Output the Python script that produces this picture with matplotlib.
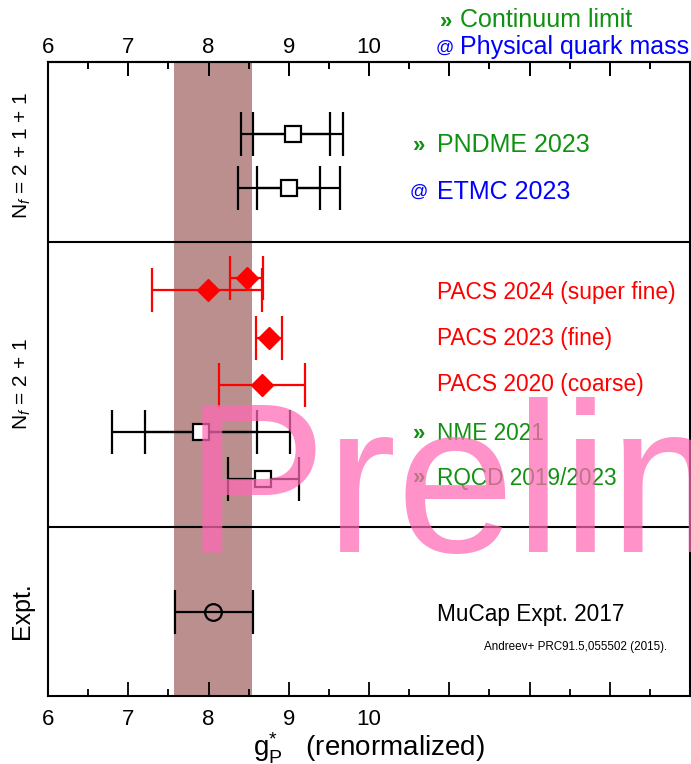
import matplotlib
matplotlib.use('Agg')
import matplotlib.pyplot as plt
import numpy as np

plt.rcParams['font.family'] = ['Liberation Sans', 'DejaVu Sans']
plt.rcParams['mathtext.fontset'] = 'custom'
plt.rcParams['mathtext.rm'] = 'Liberation Sans'
plt.rcParams['mathtext.it'] = 'Liberation Sans:italic'

GREEN = '#119111'
BLUE = '#0000ff'

# band (average)
band = (7.57, 8.54)

# lattice results with square markers: centre, inner (stat) and outer (total) ranges
sq_names = ['PNDME 2023', 'ETMC 2023', 'NME 2021', 'RQCD 2019/2023']
sq_y = [56.2, 50.8, 26.4, 21.7]
sq_x = [9.05, 9.00, 7.91, 8.68]
sq_inner_lo = [8.55, 8.61, 7.21, None]
sq_inner_hi = [9.52, 9.39, 8.60, None]
sq_outer_lo = [8.41, 8.37, 6.80, 8.24]
sq_outer_hi = [9.67, 9.64, 9.01, 9.13]
sq_prefix = ['»', '@', '»', '»']
sq_color = [GREEN, BLUE, GREEN, GREEN]
sq_label_y = [55.1, 50.4, 26.3, 21.8]
sq_label_size = [18, 18, 16.3, 16.3]

# PACS results (red diamonds)
pacs_names = ['PACS 2024 (super fine)', 'PACS 2023 (fine)', 'PACS 2020 (coarse)']
pacs_label_y = [40.4, 35.8, 31.1]
pacs_y = [40.6, 41.8, 35.8, 31.1]
pacs_x = [7.99, 8.48, 8.76, 8.67]
pacs_lo = [7.30, 8.27, 8.59, 8.13]
pacs_hi = [8.67, 8.68, 8.92, 9.20]

# experiment
exp_x, exp_y = 8.06, 8.4
exp_lo, exp_hi = 7.58, 8.55

fig = plt.figure(figsize=(6.91, 7.64), dpi=100)
ax = fig.add_axes([48/691, 68/764, 642/691, 634/764])
ax.set_xlim(6, 14)
ax.set_ylim(0, 63.4)

ax.axvspan(band[0], band[1], color='#bc8f8f', zorder=0, lw=0)

# group separators
for ysep in [45.4, 16.9]:
    ax.axhline(ysep, color='black', lw=1.5, zorder=1)

for i in range(len(sq_names)):
    lo, hi = sq_outer_lo[i], sq_outer_hi[i]
    ax.errorbar([sq_x[i]], [sq_y[i]], xerr=[[sq_x[i]-lo], [hi-sq_x[i]]],
                fmt='none', ecolor='black', elinewidth=1.6, capsize=16, capthick=1.6, zorder=3)
    if sq_inner_lo[i] is not None:
        lo, hi = sq_inner_lo[i], sq_inner_hi[i]
        ax.errorbar([sq_x[i]], [sq_y[i]], xerr=[[sq_x[i]-lo], [hi-sq_x[i]]],
                    fmt='none', ecolor='black', elinewidth=1.6, capsize=16, capthick=1.6, zorder=3)
    ax.plot(sq_x[i], sq_y[i], 's', ms=12, mfc='white', mec='black', mew=1.6, zorder=4)
    if sq_prefix[i] == '»':
        ax.text(10.55, sq_label_y[i] - 0.1, '»', color=sq_color[i], fontsize=16,
                fontweight='bold', va='center', ha='left')
    else:
        ax.text(10.51, sq_label_y[i], '@', color=sq_color[i], fontsize=13,
                va='center', ha='left')
    ax.text(10.85, sq_label_y[i], sq_names[i], color=sq_color[i], fontsize=sq_label_size[i],
            va='center', ha='left')

for i in range(len(pacs_x)):
    ax.errorbar([pacs_x[i]], [pacs_y[i]], xerr=[[pacs_x[i]-pacs_lo[i]], [pacs_hi[i]-pacs_x[i]]],
                fmt='D', color='red', ms=11, elinewidth=1.6, capsize=16, capthick=1.6, zorder=4)
for name, yl in zip(pacs_names, pacs_label_y):
    ax.text(10.85, yl, name, color='red', fontsize=16.4, va='center', ha='left')

ax.errorbar([exp_x], [exp_y], xerr=[[exp_x-exp_lo], [exp_hi-exp_x]], fmt='o', ms=12,
            mfc='none', mec='black', mew=1.6, ecolor='black', elinewidth=1.6,
            capsize=16, capthick=1.6, zorder=4)
ax.text(10.85, 8.1, 'MuCap Expt. 2017', color='black', fontsize=16.3, va='center', ha='left')
ax.text(13.71, 4.9, 'Andreev+ PRC91.5,055502 (2015).', color='black', fontsize=8.4,
        va='center', ha='right')

# axis ticks
major = np.arange(6, 14)
minor = np.arange(6.5, 14, 1.0)
ticklabels = ['6', '7', '8', '9', '10', '', '', '']
ax.set_xticks(major)
ax.set_xticklabels(ticklabels)
ax.set_xticks(minor, minor=True)
ax.set_yticks([])
ax.tick_params(axis='x', which='major', direction='in', length=10, width=1.3,
               top=True, labelsize=16, pad=9.5)
ax.tick_params(axis='x', which='minor', direction='in', length=5, width=1.3, top=True)
for s in ax.spines.values():
    s.set_linewidth(1.5)

top = ax.secondary_xaxis('top')
top.set_xticks(major)
top.set_xticklabels(ticklabels)
top.set_xticks(minor, minor=True)
top.tick_params(axis='x', which='major', direction='in', length=10, width=1.3,
                labelsize=16, pad=3)
top.tick_params(axis='x', which='minor', direction='in', length=5, width=1.3)
top.spines['top'].set_linewidth(1.5)

# x axis title
fig.text(369/691, 1-756/764, r'$\mathrm{g}_\mathrm{P}^{*}$   (renormalized)', fontsize=20,
         ha='center', va='baseline')

# group labels
fig.text(22/691, 1-155/764, r'N$_f$ = 2 + 1 + 1', rotation=90, fontsize=15, ha='center', va='center')
fig.text(22/691, 1-384/764, r'N$_f$ = 2 + 1', rotation=90, fontsize=15, ha='center', va='center')
fig.text(22/691, 1-611/764, 'Expt.', rotation=90, fontsize=18, ha='center', va='center')

# top legend
fig.text(440/691, 1-22/764, '»', color=GREEN, fontsize=16, fontweight='bold', ha='left', va='center')
fig.text(460/691, 1-20/764, 'Continuum limit', color=GREEN, fontsize=18, ha='left', va='center')
fig.text(436/691, 1-48/764, '@', color=BLUE, fontsize=13, ha='left', va='center')
fig.text(460/691, 1-47/764, 'Physical quark mass', color=BLUE, fontsize=18, ha='left', va='center')

# watermark
fig.text(185/691, 1-552/764, 'Preliminary', color='hotpink', alpha=0.72, fontsize=153,
         ha='left', va='baseline', zorder=10)

fig.savefig('out.png', dpi=100)
